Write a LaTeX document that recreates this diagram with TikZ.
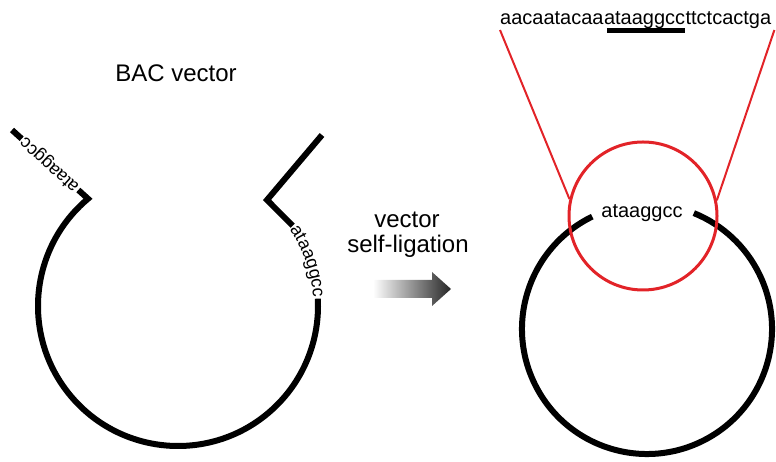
\documentclass[tikz,border=0pt]{standalone}
\usepackage{fontspec}
\setmainfont{Liberation Sans}
\usetikzlibrary{calc,decorations.text}
\definecolor{zoomred}{RGB}{226,35,40}
\begin{document}
\begin{tikzpicture}[x=1pt,y=1pt,
  dna/.style={line width=6pt, black},
  zoomline/.style={line width=2pt, zoomred},
  lbl/.style={font=\fontsize{24}{28}\selectfont, inner sep=0pt},
  seqtext/.style={font=\fontsize{20}{24}\selectfont, inner sep=0pt, anchor=base west},
  sitetext/.style={font=\fontsize{18}{20}\selectfont, inner sep=1.5pt}]
\useasboundingbox (0,0) rectangle (776,462);

% ---- linearised BAC vector with its two cut ends ----
\coordinate (L) at (178,156);
\path (L) ++(130:140) coordinate (cL);
\path (L) ++(35:140) coordinate (jR);
\path (L) ++(35:135.3) coordinate (tR);
\coordinate (aL) at (12,332);
\coordinate (cR) at (267,262);
\coordinate (aR) at (322,327);

\node[lbl, anchor=base] (bac) at (176,380) {BAC vector};

\node[sitetext, rotate=137.8] (lt) at ($(cL)!0.5!(aL)$) {ataaggcc};
\draw[dna] (aL) -- (lt);
\draw[dna] (lt) -- (cL) arc[start angle=130, end angle=363, radius=140];
\draw[dna] (jR) -- (cR) -- (aR);
\path[decorate, decoration={text along path, text align=center,
      text={|\fontsize{18}{20}\selectfont|ataaggcc}}]
  (tR) arc[start angle=35, end angle=3, radius=135.3];

% ---- ligation step ----
\node[lbl, anchor=base] (v1) at (407,234) {vector};
\node[lbl, anchor=base] (v2) at (408,209) {self-ligation};
\shade[left color=white, right color=black!85]
  (373,164) -- (432,164) -- (432,156) -- (451,173) -- (432,190)
  -- (432,182) -- (373,182) -- cycle;

% ---- circularised vector ----
\coordinate (R) at (647,133);
\path (R) ++(116:125) coordinate (rs);
\draw[dna] (rs) arc[start angle=116, end angle=428, radius=125];
\node[font=\fontsize{20}{24}\selectfont, inner sep=0pt, anchor=base] (site) at (642,244) {ataaggcc};

% ---- junction close-up ----
\node[draw=zoomred, line width=3pt, circle, minimum size=148pt, inner sep=0pt] (zoom) at (643,246) {};
\node[seqtext] (seqA) at (500,437) {aacaatacaa};
\node[seqtext] (seqB) at (seqA.base east) {ataaggcc};
\node[seqtext] (seqC) at (seqB.base east) {ttctcactga};
\draw[line width=5pt] ([xshift=3pt, yshift=-6pt]seqB.base west) -- ([yshift=-6pt]seqB.base east);
\coordinate (zl) at ([yshift=-5pt]seqA.base west);
\coordinate (zr) at ([xshift=3pt, yshift=-5pt]seqC.base east);
\draw[zoomline] (zl) -- (zoom.167.5);
\draw[zoomline] (zr) -- (zoom.12.5);
\end{tikzpicture}
\end{document}
